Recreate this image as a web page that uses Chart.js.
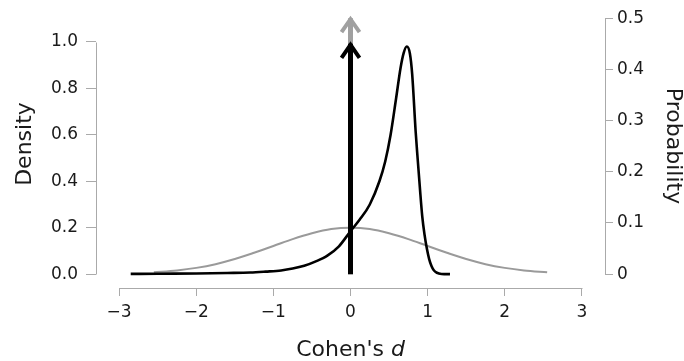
<!DOCTYPE html>
<html>
<head>
<meta charset="utf-8">
<script src="https://cdn.jsdelivr.net/npm/chart.js@4.4.1/dist/chart.umd.min.js"></script>
<style>
  html, body { margin: 0; padding: 0; background: #fff; }
  canvas { display: block; }
</style>
</head>
<body>
<canvas id="c" width="684" height="361"></canvas>
<script>
// prior (gray) slab density
const priorX = [-2.55, -2.25, -2, -1.75, -1.5, -1.25, -1, -0.75, -0.5, -0.25, 0,
                0.25, 0.5, 0.75, 1, 1.25, 1.5, 1.75, 2, 2.25, 2.55];
const priorY = [0.008, 0.016, 0.027, 0.043, 0.065, 0.092, 0.121, 0.151, 0.176, 0.194, 0.2,
                0.194, 0.176, 0.151, 0.121, 0.092, 0.065, 0.043, 0.027, 0.016, 0.008];

// posterior (black) density
const posteriorX = [-2.85, -2.5, -2.0, -1.6, -1.3, -1.1, -0.9, -0.75, -0.6, -0.45, -0.3, -0.15, 0,
                    0.12, 0.25, 0.375, 0.45, 0.52, 0.59, 0.65, 0.69, 0.73, 0.77, 0.8, 0.845,
                    0.87, 0.9, 0.93, 0.96, 0.99, 1.02, 1.05, 1.08, 1.12, 1.18, 1.29];
const posteriorY = [0.001, 0.002, 0.003, 0.005, 0.007, 0.011, 0.016, 0.024, 0.036, 0.055, 0.08, 0.12, 0.185,
                    0.235, 0.30, 0.40, 0.485, 0.60, 0.754, 0.89, 0.953, 0.98, 0.95, 0.86, 0.613,
                    0.50, 0.37, 0.25, 0.17, 0.11, 0.065, 0.035, 0.017, 0.006, 0.001, 0.0];

// point masses at d = 0 (probability, right axis)
const spikeX = 0;
const priorSpike = 0.5;
const posteriorSpike = 0.45;

const xTicks = [-3, -2, -1, 0, 1, 2, 3];
const densityTicks = [0, 0.2, 0.4, 0.6, 0.8, 1.0];
const probTicks = [0, 0.1, 0.2, 0.3, 0.4, 0.5];

const AXIS = '#aaaaaa';
const TEXT = '#1a1a1a';
const FONT = '"DejaVu Sans"';

Chart.defaults.font.family = FONT;
Chart.defaults.font.size = 17;
Chart.defaults.color = TEXT;

const toXY = (xs, ys) => xs.map((x, i) => ({ x: x, y: ys[i] }));

const arrowHeads = {
  id: 'arrowHeads',
  afterDatasetDraw(chart, args) {
    const ds = chart.data.datasets[args.index];
    if (!ds.arrow) return;
    const pts = args.meta.data;
    const tip = pts[pts.length - 1];
    const ctx = chart.ctx;
    ctx.save();
    ctx.strokeStyle = ds.borderColor;
    ctx.lineWidth = 4;
    ctx.lineJoin = 'miter';
    ctx.beginPath();
    ctx.moveTo(tip.x - 9, tip.y + 14);
    ctx.lineTo(tip.x, tip.y + 1);
    ctx.lineTo(tip.x + 9, tip.y + 14);
    ctx.stroke();
    ctx.restore();
  }
};

const axesAndTitles = {
  id: 'axesAndTitles',
  afterDraw(chart) {
    const ctx = chart.ctx;
    const { x, y, y2 } = chart.scales;
    const area = chart.chartArea;
    ctx.save();
    ctx.strokeStyle = AXIS;
    ctx.lineWidth = 1;
    ctx.beginPath();
    const lx = Math.round(area.left) + 0.5;
    ctx.moveTo(lx, Math.round(y.getPixelForValue(densityTicks[0])) + 0.5);
    ctx.lineTo(lx, Math.round(y.getPixelForValue(densityTicks[densityTicks.length - 1])) + 0.5);
    const rx = Math.round(area.right) + 0.5;
    ctx.moveTo(rx, Math.round(y2.getPixelForValue(probTicks[0])) + 0.5);
    ctx.lineTo(rx, Math.round(y2.getPixelForValue(probTicks[probTicks.length - 1])) + 0.5);
    const by = Math.round(area.bottom) + 0.5;
    ctx.moveTo(Math.round(x.getPixelForValue(xTicks[0])) + 0.5, by);
    ctx.lineTo(Math.round(x.getPixelForValue(xTicks[xTicks.length - 1])) + 0.5, by);
    ctx.stroke();

    ctx.fillStyle = TEXT;
    ctx.font = '22px ' + FONT;
    ctx.textAlign = 'center';
    ctx.textBaseline = 'middle';
    ctx.save();
    ctx.translate(25, 144);
    ctx.rotate(-Math.PI / 2);
    ctx.fillText('Density', 0, 0);
    ctx.restore();
    ctx.save();
    ctx.translate(673, 146);
    ctx.rotate(Math.PI / 2);
    ctx.fillText('Probability', 0, 0);
    ctx.restore();

    ctx.textAlign = 'left';
    ctx.textBaseline = 'alphabetic';
    const a = "Cohen's ";
    const wa = ctx.measureText(a).width;
    ctx.font = 'italic 22px ' + FONT;
    const wb = ctx.measureText('d').width;
    const cx = x.getPixelForValue(0);
    const start = cx - (wa + wb) / 2;
    ctx.font = '22px ' + FONT;
    ctx.fillText(a, start, 356);
    ctx.font = 'italic 22px ' + FONT;
    ctx.fillText('d', start + wa, 356);
    ctx.restore();
  }
};

const setTicks = list => scale => { scale.ticks = list.map(v => ({ value: v })); };

new Chart(document.getElementById('c'), {
  type: 'line',
  data: {
    datasets: [
      {
        data: toXY([spikeX, spikeX], [0, posteriorSpike]),
        yAxisID: 'y2', borderColor: '#000', borderWidth: 5,
        pointRadius: 0, arrow: true, clip: false, tension: 0
      },
      {
        data: toXY(posteriorX, posteriorY),
        yAxisID: 'y', borderColor: '#000', borderWidth: 2.6,
        pointRadius: 0, cubicInterpolationMode: 'monotone'
      },
      {
        data: toXY([spikeX, spikeX], [0, priorSpike]),
        yAxisID: 'y2', borderColor: '#a0a0a0', borderWidth: 5,
        pointRadius: 0, arrow: true, clip: false, tension: 0
      },
      {
        data: toXY(priorX, priorY),
        yAxisID: 'y', borderColor: '#9a9a9a', borderWidth: 2,
        pointRadius: 0, cubicInterpolationMode: 'monotone'
      }
    ]
  },
  options: {
    responsive: false,
    animation: false,
    layout: { padding: { top: 15, left: 0, right: 0, bottom: 0 } },
    plugins: { legend: { display: false }, tooltip: { enabled: false } },
    scales: {
      x: {
        type: 'linear', min: -3.3, max: 3.3,
        afterBuildTicks: setTicks(xTicks),
        afterFit: s => { s.height = 73; },
        border: { display: false },
        grid: { drawOnChartArea: false, drawTicks: true, tickLength: 8, color: AXIS },
        ticks: {
          padding: 6, maxRotation: 0, autoSkip: false,
          callback: v => (v < 0 ? '\u2212' + Math.abs(v) : String(v))
        }
      },
      y: {
        type: 'linear', position: 'left', min: -0.0596, max: 1.102,
        afterBuildTicks: setTicks(densityTicks),
        afterFit: s => { s.width = 96; },
        border: { display: false },
        grid: { drawOnChartArea: false, drawTicks: true, tickLength: 10, color: AXIS },
        ticks: { padding: 8, autoSkip: false, callback: v => v.toFixed(1) }
      },
      y2: {
        type: 'linear', position: 'right', min: -0.02708, max: 0.5,
        afterBuildTicks: setTicks(probTicks),
        afterFit: s => { s.width = 79; },
        border: { display: false },
        grid: { drawOnChartArea: false, drawTicks: true, tickLength: 8, color: AXIS },
        ticks: { padding: 4, autoSkip: false, callback: v => (v === 0 ? '0' : v.toFixed(1)) }
      }
    }
  },
  plugins: [arrowHeads, axesAndTitles]
});
</script>
</body>
</html>
